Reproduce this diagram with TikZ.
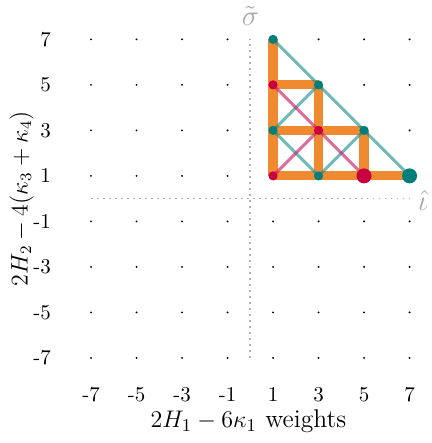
\documentclass[tikz,border=0pt]{standalone}
\usepackage{amsmath}
\begin{document}
\begin{tikzpicture}[x=0.4cm,y=0.4cm,
  gdot/.style={circle,fill=black,inner sep=0pt,minimum size=1.1pt},
  axisline/.style={gray!60,line width=0.8pt,dash pattern=on 0.8pt off 2.2pt},
  oedge/.style={line width=4.6pt,draw=orangeE},
  tedge/.style={line width=1.5pt,draw=tealE,opacity=0.6},
  pedge/.style={line width=1.5pt,draw=pinkE,opacity=0.65},
  tnode/.style={circle,fill=tealN,inner sep=0pt,minimum size=4.6pt},
  pnode/.style={circle,fill=pinkN,inner sep=0pt,minimum size=4.6pt},
  bigT/.style={tnode,minimum size=7.5pt},
  bigP/.style={pnode,minimum size=7.5pt},
  tick/.style={font=\fontsize{10.5}{12}\selectfont},
  axlab/.style={gray!70,font=\Large}]
\definecolor{orangeE}{RGB}{240,138,48}
\definecolor{tealE}{RGB}{20,140,140}
\definecolor{pinkE}{RGB}{205,30,100}
\definecolor{tealN}{RGB}{0,128,122}
\definecolor{pinkN}{RGB}{200,0,64}
\useasboundingbox (-11.0,-10.74) rectangle (7.95,8.73);
% axes
\coordinate (xl) at (-7,0); \coordinate (xr) at (7,0);
\coordinate (yb) at (0,-7); \coordinate (yt) at (0,7);
\draw[axisline] (xl) -- (xr);
\draw[axisline] (yb) -- (yt);
\node[axlab] (sig) at (0,8.05) {$\tilde\sigma$};
\node[axlab] (iot) at (7.6,-0.1) {$\hat\iota$};
% grid dots
\foreach \i in {-7,-5,...,7}{
  \foreach \j in {-7,-5,...,7}{
    \node[gdot] (d\i\j) at (\i,\j) {};
  }
}
% tick labels
\foreach \v in {-7,-5,-3,-1,1,3,5,7}{
  \node[tick,anchor=east] (ly\v) at (-8.45,\v) {\v};
  \node[tick] (lx\v) at (\v,-8.6) {\v};
}
\node[font=\fontsize{12.8}{15}\selectfont] (xlabel) at (-0.08,-9.8) {$2H_1-6\kappa_1$ weights};
\node[font=\large,rotate=90] (ylabel) at (-10.05,0) {$2H_2-4(\kappa_3+\kappa_4)$};
% nodes coordinates
\coordinate (a17) at (1,7);
\coordinate (a15) at (1,5);
\coordinate (a13) at (1,3);
\coordinate (a11) at (1,1);
\coordinate (a35) at (3,5);
\coordinate (a33) at (3,3);
\coordinate (a31) at (3,1);
\coordinate (a53) at (5,3);
\coordinate (a51) at (5,1);
\coordinate (a71) at (7,1);
% orange edges
\draw[oedge] (a11) -- (a17);
\draw[oedge] (a15) -- (a35);
\draw[oedge] (a13) -- (a53);
\draw[oedge] (a11) -- (a71);
\draw[oedge] (a31) -- (a35);
\draw[oedge] (a51) -- (a53);
% teal edges
\draw[tedge] (a17) -- (a71);
\draw[tedge] (a13) -- (a35);
\draw[tedge] (a13) -- (a31);
\draw[tedge] (a31) -- (a53);
% pink edges
\draw[pedge] (a15) -- (a51);
\draw[pedge] (a11) -- (a33);
% nodes
\node[tnode] (n17) at (a17) {};
\node[pnode] (n15) at (a15) {};
\node[tnode] (n13) at (a13) {};
\node[pnode] (n11) at (a11) {};
\node[tnode] (n35) at (a35) {};
\node[pnode] (n33) at (a33) {};
\node[tnode] (n31) at (a31) {};
\node[tnode] (n53) at (a53) {};
\node[bigP] (n51) at (a51) {};
\node[bigT] (n71) at (a71) {};
\end{tikzpicture}
\end{document}
